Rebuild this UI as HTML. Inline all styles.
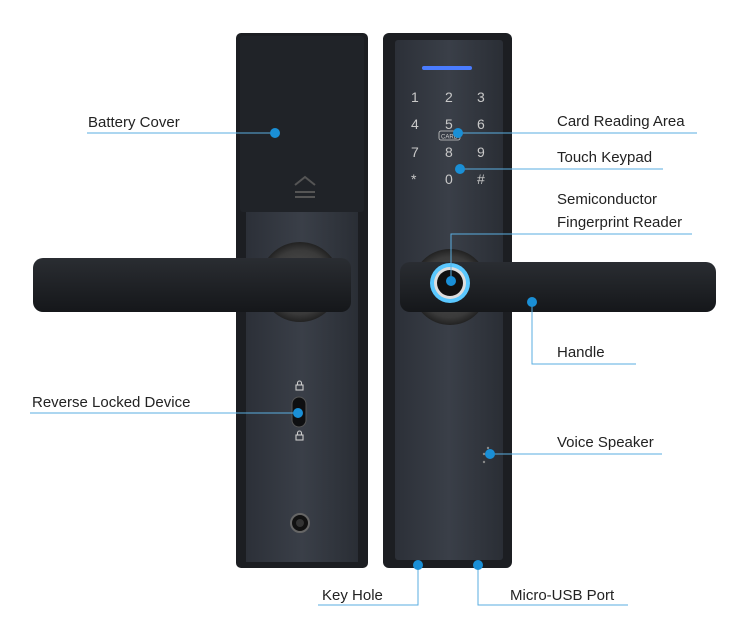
<!DOCTYPE html>
<html><head><meta charset="utf-8"><style>
html,body{margin:0;padding:0;background:#fff}
svg{display:block}
text{font-family:"Liberation Sans",sans-serif;font-size:15px;fill:#222}
</style></head><body>
<svg width="742" height="628" viewBox="0 0 742 628" xmlns="http://www.w3.org/2000/svg">
<defs>
<linearGradient id="pl" x1="0" x2="1"><stop offset="0" stop-color="#2c3038"/><stop offset=".5" stop-color="#3a3f48"/><stop offset="1" stop-color="#2a2e35"/></linearGradient>
<linearGradient id="hd" x1="0" y1="0" x2="0" y2="1"><stop offset="0" stop-color="#2a2d32"/><stop offset="1" stop-color="#15171a"/></linearGradient>
<radialGradient id="ros"><stop offset="0" stop-color="#555"/><stop offset=".8" stop-color="#3a3a3a"/><stop offset="1" stop-color="#222"/></radialGradient>
</defs>
<!-- left lock -->
<rect x="236" y="33" width="132" height="535" rx="5" fill="#1c1e22"/>
<rect x="240" y="36" width="124" height="176" rx="3" fill="#202328"/>
<rect x="246" y="212" width="112" height="350" fill="url(#pl)"/>
<path d="M295 185 l10 -8 l10 8 M295 192 h20 M295 197 h20" stroke="#555" stroke-width="2" fill="none"/>
<circle cx="300" cy="282" r="40" fill="url(#ros)"/>
<rect x="33" y="258" width="318" height="54" rx="10" fill="url(#hd)"/>
<rect x="292" y="397" width="14" height="30" rx="7" fill="#0e0f11" stroke="#555"/>
<path d="M297.5 385 v-2 a2 2 0 0 1 4 0 v2" stroke="#ccc" stroke-width="1.1" fill="none"/>
<rect x="296" y="385" width="7" height="5" fill="none" stroke="#ccc" stroke-width="1.1"/>
<path d="M297.5 435 v-2 a2 2 0 0 1 4 0 v2" stroke="#ccc" stroke-width="1.1" fill="none"/>
<rect x="296" y="435" width="7" height="5" fill="none" stroke="#ccc" stroke-width="1.1"/>
<circle cx="300" cy="523" r="9" fill="#111" stroke="#666" stroke-width="2"/>
<circle cx="300" cy="523" r="4" fill="#333"/>
<!-- right lock -->
<rect x="383" y="33" width="129" height="535" rx="6" fill="#1c1e22"/>
<rect x="395" y="40" width="108" height="520" rx="3" fill="url(#pl)"/>
<rect x="422" y="66" width="50" height="4" rx="2" fill="#4a7cff"/>
<g>
<text x="411" y="102" style="fill:#c8c8c8;font-size:14px">1</text><text x="445" y="102" style="fill:#c8c8c8;font-size:14px">2</text><text x="477" y="102" style="fill:#c8c8c8;font-size:14px">3</text>
<text x="411" y="129" style="fill:#c8c8c8;font-size:14px">4</text><text x="445" y="129" style="fill:#c8c8c8;font-size:14px">5</text><text x="477" y="129" style="fill:#c8c8c8;font-size:14px">6</text>
<text x="411" y="157" style="fill:#c8c8c8;font-size:14px">7</text><text x="445" y="157" style="fill:#c8c8c8;font-size:14px">8</text><text x="477" y="157" style="fill:#c8c8c8;font-size:14px">9</text>
<text x="411" y="184" style="fill:#c8c8c8;font-size:14px">*</text><text x="445" y="184" style="fill:#c8c8c8;font-size:14px">0</text><text x="477" y="184" style="fill:#c8c8c8;font-size:14px">#</text>
</g>
<rect x="439" y="131" width="21" height="9" rx="2" fill="none" stroke="#ccc" stroke-width=".8"/>
<text x="441" y="138.5" style="font-size:6px;fill:#ccc">CARD</text>
<circle cx="450" cy="287" r="38" fill="url(#ros)"/>
<rect x="400" y="262" width="316" height="50" rx="10" fill="url(#hd)"/>
<circle cx="450" cy="283" r="20" fill="#5ac8ff"/>
<circle cx="450" cy="283" r="16" fill="#ddd"/>
<circle cx="450" cy="283" r="13" fill="#111"/>
<circle cx="488" cy="448" r="1.2" fill="#888"/><circle cx="484" cy="454" r="1.2" fill="#888"/><circle cx="484" cy="462" r="1.2" fill="#888"/>
<!-- callouts -->
<g stroke="#5aaee0" stroke-width="1" fill="none">
<path d="M87 133 H275"/>
<path d="M458 133 H697"/>
<path d="M460 169 H663"/>
<path d="M692 234 H451 V280"/>
<path d="M532 302 V364 H636"/>
<path d="M30 413 H298"/>
<path d="M490 454 H662"/>
<path d="M418 565 V605 H318"/>
<path d="M478 565 V605 H628"/>
</g>
<g fill="#1a8fd6">
<circle cx="275" cy="133" r="5"/><circle cx="458" cy="133" r="5"/><circle cx="460" cy="169" r="5"/>
<circle cx="451" cy="281" r="5"/><circle cx="532" cy="302" r="5"/><circle cx="298" cy="413" r="5"/>
<circle cx="490" cy="454" r="5"/><circle cx="418" cy="565" r="5"/><circle cx="478" cy="565" r="5"/>
</g>
<text x="88" y="127">Battery Cover</text>
<text x="557" y="126">Card Reading Area</text>
<text x="557" y="162">Touch Keypad</text>
<text x="557" y="204">Semiconductor</text>
<text x="557" y="227">Fingerprint Reader</text>
<text x="557" y="357">Handle</text>
<text x="32" y="407">Reverse Locked Device</text>
<text x="557" y="447">Voice Speaker</text>
<text x="322" y="600">Key Hole</text>
<text x="510" y="600">Micro-USB Port</text>
</svg>
</body></html>
